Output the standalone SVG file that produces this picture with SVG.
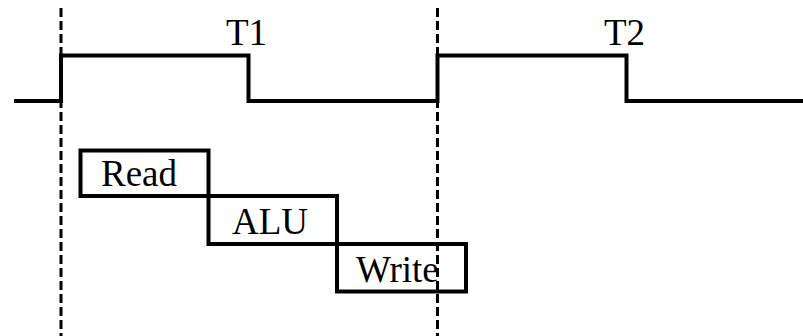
<svg xmlns="http://www.w3.org/2000/svg" width="803" height="336" viewBox="0 0 803 336">
<style>
.dash{stroke:#000;stroke-width:3;stroke-dasharray:9 4;fill:none}
.clk{stroke:#000;stroke-width:4;fill:none;stroke-linejoin:miter}
.box{stroke:#000;stroke-width:4;fill:#fff}
.lbl{font-family:"Liberation Serif","Times New Roman",serif;font-size:37px;fill:#000}
</style>
<rect width="803" height="336" fill="#fff"/>
<g id="clock">
<path class="clk" d="M14 101 H61 V55.5 H248.5 V101 H437.5 V55.5 H626.5 V101 H803"/>
<text class="lbl" x="226" y="45">T1</text>
<text class="lbl" x="604" y="45">T2</text>
</g>
<g id="read">
<rect class="box" x="80.5" y="150.5" width="128" height="45.5"/>
<text class="lbl" x="101" y="186">Read</text>
</g>
<g id="alu">
<rect class="box" x="208.5" y="196" width="128.5" height="48"/>
<text class="lbl" x="232" y="234">ALU</text>
</g>
<g id="write">
<rect class="box" x="337" y="244" width="129" height="47.5"/>
<text class="lbl" x="356" y="282">Write</text>
</g>
<g id="connectors">
<line class="dash" x1="61" y1="8" x2="61" y2="336"/>
<line class="dash" x1="437.5" y1="8" x2="437.5" y2="336"/>
</g>
</svg>
